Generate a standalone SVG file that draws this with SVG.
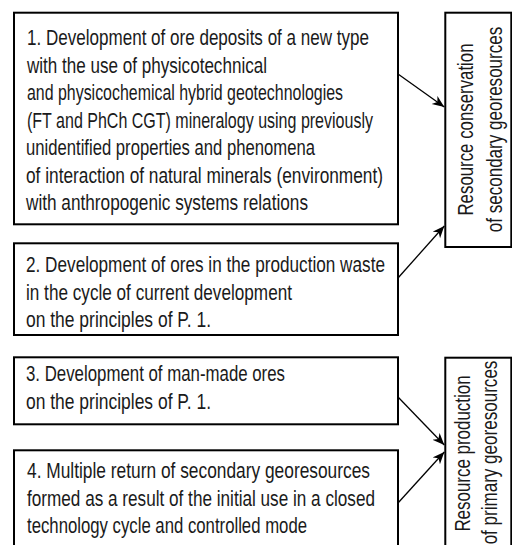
<svg xmlns="http://www.w3.org/2000/svg" width="512" height="545" viewBox="0 0 512 545">
<style>
.box{fill:#fff;stroke:#000;stroke-width:2}
.t{font-family:"Liberation Sans",Arial,sans-serif;font-size:22px;fill:#1a1a1a}
.v{font-family:"Liberation Sans",Arial,sans-serif;font-size:22px;fill:#1a1a1a;text-anchor:middle}
.c{fill:none;stroke:#000;stroke-width:1.3}
</style>
<defs>
<marker id="ah" markerUnits="userSpaceOnUse" markerWidth="14" markerHeight="12" refX="12" refY="5" orient="auto">
<path d="M0,0 L12,5 L0,10 L3.5,5 Z" fill="#000"/>
</marker>
</defs>
<rect width="512" height="545" fill="#fff"/>
<g id="node1">
<rect class="box" x="14" y="12.7" width="384" height="211.6"/>
<text class="t" x="27" y="45" textLength="342" lengthAdjust="spacingAndGlyphs">1. Development of ore deposits of a new type</text>
<text class="t" x="27" y="72.5" textLength="240" lengthAdjust="spacingAndGlyphs">with the use of physicotechnical</text>
<text class="t" x="27" y="100" textLength="316" lengthAdjust="spacingAndGlyphs">and physicochemical hybrid geotechnologies</text>
<text class="t" x="27" y="127.5" textLength="346" lengthAdjust="spacingAndGlyphs">(FT and PhCh CGT) mineralogy using previously</text>
<text class="t" x="26" y="155" textLength="289" lengthAdjust="spacingAndGlyphs">unidentified properties and phenomena</text>
<text class="t" x="26" y="182.5" textLength="357" lengthAdjust="spacingAndGlyphs">of interaction of natural minerals (environment)</text>
<text class="t" x="26" y="210" textLength="282" lengthAdjust="spacingAndGlyphs">with anthropogenic systems relations</text>
</g>
<g id="node2">
<rect class="box" x="14" y="243.3" width="384" height="91.7"/>
<text class="t" x="26" y="272" textLength="359" lengthAdjust="spacingAndGlyphs">2. Development of ores in the production waste</text>
<text class="t" x="26" y="299.5" textLength="266" lengthAdjust="spacingAndGlyphs">in the cycle of current development</text>
<text class="t" x="26" y="327" textLength="185" lengthAdjust="spacingAndGlyphs">on the principles of P. 1.</text>
</g>
<g id="node3">
<rect class="box" x="14" y="357.3" width="384" height="67"/>
<text class="t" x="26" y="381" textLength="259" lengthAdjust="spacingAndGlyphs">3. Development of man-made ores</text>
<text class="t" x="26" y="409" textLength="185" lengthAdjust="spacingAndGlyphs">on the principles of P. 1.</text>
</g>
<g id="node4">
<rect class="box" x="14" y="450.3" width="384" height="104"/>
<text class="t" x="27" y="478" textLength="343" lengthAdjust="spacingAndGlyphs">4. Multiple return of secondary georesources</text>
<text class="t" x="27" y="505.5" textLength="348" lengthAdjust="spacingAndGlyphs">formed as a result of the initial use in a closed</text>
<text class="t" x="27" y="533" textLength="280" lengthAdjust="spacingAndGlyphs">technology cycle and controlled mode</text>
</g>
<g id="node5">
<rect class="box" x="445.3" y="12.7" width="66" height="234.3"/>
<text class="v" transform="translate(472.7,129.5) rotate(-90) scale(0.765,1)">Resource conservation</text>
<text class="v" transform="translate(501.7,129.5) rotate(-90) scale(0.775,1)">of secondary georesources</text>
</g>
<g id="node6">
<rect class="box" x="445.3" y="357.7" width="66" height="200"/>
<text class="v" transform="translate(470,453.5) rotate(-90) scale(0.77,1)">Resource production</text>
<text class="v" transform="translate(497,452.5) rotate(-90) scale(0.775,1)">of primary georesources</text>
</g>
<g id="connectors">
<line class="c" x1="398" y1="74" x2="444.3" y2="107" marker-end="url(#ah)"/>
<line class="c" x1="398" y1="278" x2="444.3" y2="226" marker-end="url(#ah)"/>
<line class="c" x1="398" y1="397" x2="444.3" y2="445" marker-end="url(#ah)"/>
<line class="c" x1="398" y1="503" x2="444.3" y2="452" marker-end="url(#ah)"/>
</g>
</svg>
